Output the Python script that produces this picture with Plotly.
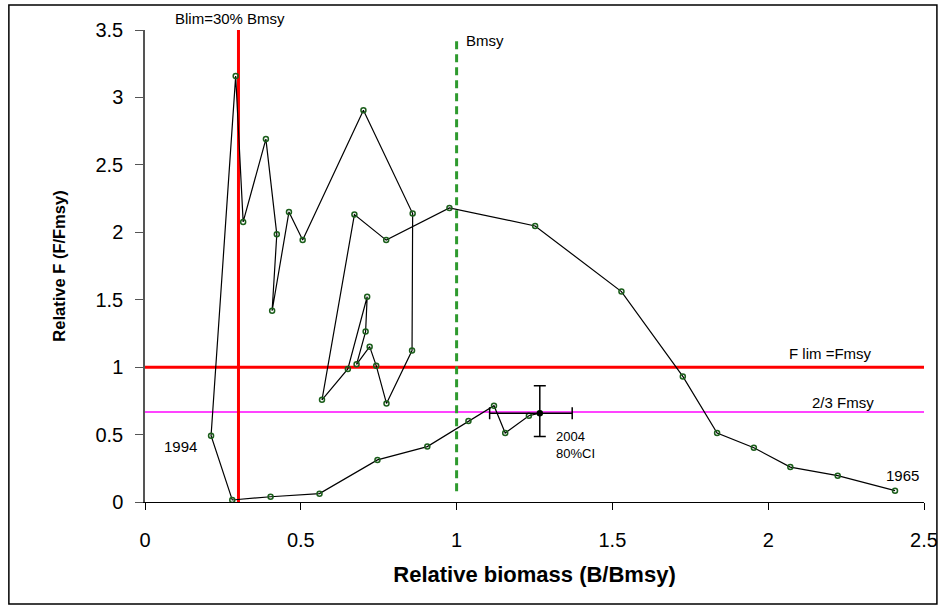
import plotly.graph_objects as go

# Trajectory 1965 -> 2004 (relative biomass B/Bmsy, relative F F/Fmsy)
years = list(range(1965, 2005))
rel_B = [2.407, 2.223, 2.071, 1.954, 1.836, 1.726, 1.529, 1.252,
         0.977, 0.774, 0.672, 0.568, 0.651, 0.713, 0.708, 0.679,
         0.721, 0.742, 0.775, 0.857, 0.859, 0.701, 0.506, 0.462,
         0.408, 0.423, 0.388, 0.315, 0.291, 0.212,
         0.280, 0.403, 0.560, 0.746, 0.906, 1.038, 1.120, 1.156, 1.232, 1.267]
rel_F = [0.084, 0.195, 0.259, 0.402, 0.511, 0.931, 1.560, 2.047,
         2.181, 1.942, 2.131, 0.758, 0.987, 1.522, 1.264, 1.021,
         1.152, 1.011, 0.731, 1.123, 2.139, 2.905, 1.943, 2.151,
         1.418, 1.985, 2.691, 2.077, 3.158, 0.491,
         0.015, 0.039, 0.062, 0.312, 0.411, 0.600, 0.714, 0.511, 0.640, 0.659]

# 2004 80% confidence intervals
ci_B = [1.106, 1.371]
ci_F = [0.486, 0.862]

# Reference points
blim = 0.3
bmsy = 1.0
flim = 1.0
f_target = 2 / 3

x_ticks = [0, 0.5, 1, 1.5, 2, 2.5]
y_ticks = [0, 0.5, 1, 1.5, 2, 2.5, 3, 3.5]

FONT = "Liberation Sans, Arial, sans-serif"

fig = go.Figure()

# Reference lines
fig.add_trace(go.Scatter(x=[0, 2.5], y=[f_target, f_target], mode="lines",
                         line=dict(color="#ff44ff", width=2), hoverinfo="skip"))
fig.add_trace(go.Scatter(x=[0, 2.5], y=[flim, flim], mode="lines",
                         line=dict(color="#ff0000", width=3), hoverinfo="skip"))
fig.add_trace(go.Scatter(x=[blim, blim], y=[0, 3.5], mode="lines",
                         line=dict(color="#ff0000", width=3), hoverinfo="skip"))
fig.add_trace(go.Scatter(x=[bmsy, bmsy], y=[0.08, 3.45], mode="lines",
                         line=dict(color="#2e9a2e", width=3, dash="8px,5px"), hoverinfo="skip"))

# Trajectory
fig.add_trace(go.Scatter(x=rel_B, y=rel_F, mode="lines+markers",
                         line=dict(color="black", width=1.2),
                         marker=dict(symbol="circle-open", size=5,
                                     color="#1b5e1b", line=dict(width=1.5)),
                         text=[str(y) for y in years]))

# 2004 point with CI
b04 = rel_B[-1]
f04 = rel_F[-1]
fig.add_trace(go.Scatter(
    x=[b04], y=[f04], mode="markers",
    marker=dict(symbol="circle", size=6, color="black"),
    error_x=dict(type="data", symmetric=False, array=[ci_B[1] - b04],
                 arrayminus=[b04 - ci_B[0]], color="black", thickness=1.5, width=6),
    error_y=dict(type="data", symmetric=False, array=[ci_F[1] - f04],
                 arrayminus=[f04 - ci_F[0]], color="black", thickness=1.5, width=6),
))

annots = [
    dict(x=0.089, y=3.5, text="Blim=30% Bmsy", xanchor="left", yanchor="bottom",
         yshift=1, font=dict(size=15)),
    dict(x=1.025, y=3.42, text="Bmsy", xanchor="left", yanchor="middle", font=dict(size=15)),
    dict(x=2.321, y=1.10, text="F lim =Fmsy", xanchor="right", yanchor="middle",
         xshift=6, font=dict(size=15)),
    dict(x=2.328, y=0.736, text="2/3 Fmsy", xanchor="right", yanchor="middle",
         xshift=6, font=dict(size=15)),
    dict(x=0.166, y=0.411, text="1994", xanchor="right", yanchor="middle",
         xshift=2, font=dict(size=15)),
    dict(x=1.311, y=0.42, text="2004<br>80%CI", xanchor="left", yanchor="middle",
         align="left", font=dict(size=13)),
    dict(x=2.467, y=0.20, text="1965", xanchor="right", yanchor="middle",
         xshift=7, font=dict(size=15)),
]
for a in annots:
    a.update(xref="x", yref="y", showarrow=False)
    a["font"].update(family=FONT, color="black")

# Outer border (pixel geometry converted to paper coordinates)
L, R, T, B = 145, 21, 30, 111
W, H = 950, 613
pw, ph = W - L - R, H - T - B
def px_to_paper(px, py):
    return (px - L) / pw, (H - B - py) / ph
x0, y0 = px_to_paper(8, 604)
x1, y1 = px_to_paper(942, 5)
fig.add_shape(type="rect", xref="paper", yref="paper", x0=x0, y0=y0, x1=x1, y1=y1,
              line=dict(color="black", width=1.5), fillcolor="rgba(0,0,0,0)", layer="below")

fig.update_layout(
    width=W, height=H,
    margin=dict(l=L, r=R, t=T, b=B),
    paper_bgcolor="white", plot_bgcolor="white",
    showlegend=False,
    annotations=annots,
    font=dict(family=FONT, color="black"),
    xaxis=dict(range=[0, 2.5], tickvals=x_ticks, ticktext=[f"{v:g}" for v in x_ticks],
               showgrid=False, zeroline=False, showline=True, linecolor="black", linewidth=1.2,
               ticks="outside", ticklen=7, tickcolor="black",
               tickfont=dict(size=20, family=FONT), ticklabelstandoff=13,
               title=dict(text="<b>Relative biomass (B/Bmsy)</b>", font=dict(size=22, family=FONT),
                          standoff=16)),
    yaxis=dict(range=[0, 3.5], tickvals=y_ticks, ticktext=[f"{v:g}" for v in y_ticks],
               showgrid=False, zeroline=False, showline=True, linecolor="#555555", linewidth=1.5,
               ticks="outside", ticklen=8, tickcolor="#555555",
               tickfont=dict(size=20, family=FONT), ticklabelstandoff=8,
               title=dict(text="<b>Relative F (F/Fmsy)</b>", font=dict(size=16.5, family=FONT),
                          standoff=26)),
)

fig.write_html("out.html")
